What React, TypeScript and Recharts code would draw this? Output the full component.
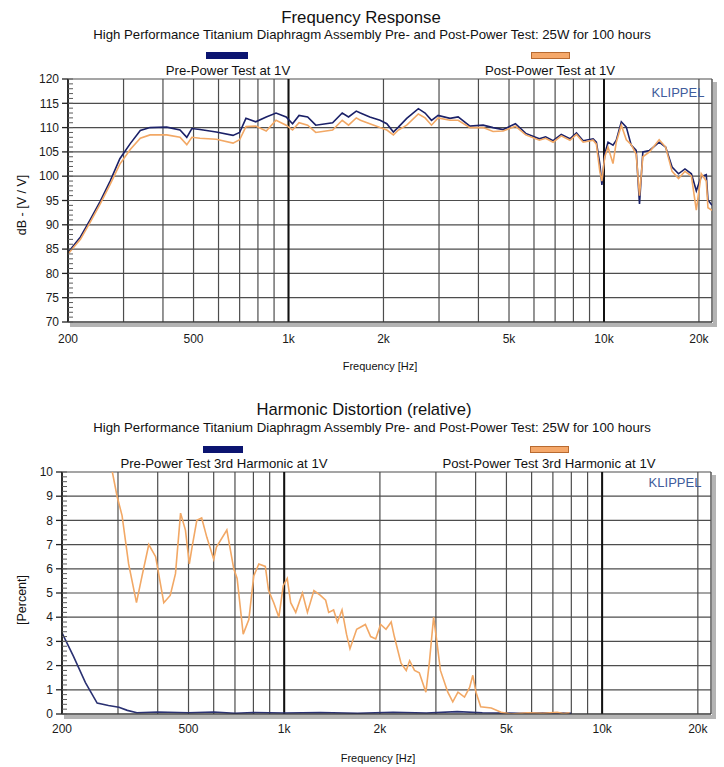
import React from 'react';
import { LineChart, Line, XAxis, YAxis, CartesianGrid, ReferenceLine } from 'recharts';

const FONT = '"Liberation Sans", Arial, Helvetica, sans-serif';
const NAVY = '#1b2168';
const ORANGE = '#f2a865';

// ---------- Frequency response (top) ----------
const frFreq = [200, 219, 235, 253, 272, 292, 315, 339, 364, 411, 453, 476, 494, 524, 590, 667, 700, 733, 787, 850, 913, 983, 1030, 1080, 1150, 1220, 1380, 1480, 1550, 1640, 1690, 1810, 1950, 2050, 2150, 2230, 2370, 2580, 2710, 2840, 2980, 3250, 3450, 3760, 4140, 4450, 4790, 5240, 5650, 6240, 6530, 6900, 7320, 7800, 8180, 8590, 9240, 9460, 9700, 9850, 10060, 10300, 10680, 10940, 11350, 11770, 12200, 12650, 12960, 13280, 13940, 14960, 15680, 16440, 17230, 18060, 18930, 19620, 20340, 21100, 21360, 22000];
const frPre = [84.3, 87.5, 91, 94.8, 99, 103.6, 106.7, 109.4, 110, 110.1, 109.5, 108, 109.8, 109.6, 109.1, 108.4, 109, 111.9, 111.2, 112.2, 113, 112.2, 110.8, 112.5, 112.2, 110.5, 111, 113, 112.2, 113.4, 113, 112.2, 111.5, 110.8, 109.1, 110.1, 111.9, 113.9, 113, 111.5, 112.5, 111.9, 112.2, 110.3, 110.5, 110, 109.6, 110.8, 108.8, 107.7, 108.1, 107.3, 108.6, 107.7, 108.9, 107.3, 107.7, 107, 102.6, 98.2, 104.6, 107, 106.4, 107.4, 111.2, 110.1, 106.4, 105.3, 94.3, 105, 105.3, 107, 106, 101.9, 100.5, 101.5, 100.5, 97, 99.9, 100.3, 95.1, 94];
const frPost = [84, 87, 90.5, 94.3, 98.3, 102.5, 105.5, 107.8, 108.5, 108.5, 108, 106.5, 108, 107.8, 107.6, 106.8, 107.5, 110.2, 110.3, 109.3, 111.5, 110.5, 109.5, 111, 110.5, 109, 109.5, 111.5, 110.5, 112, 111.5, 110.8, 110, 109.5, 108.5, 109.5, 110.5, 112.8, 112, 110.5, 112, 111.5, 111.5, 110, 110, 109.2, 109.3, 110.3, 108.5, 107.4, 107.8, 107, 108.3, 107.4, 108.6, 107, 107.4, 106.6, 101, 99, 104, 106, 102.6, 107, 110.5, 107.5, 106.5, 104.5, 96, 104, 105, 107.5, 106, 101, 99.5, 101, 100, 93, 100.5, 99, 93.5, 93];
const frMajorTicks = [70, 75, 80, 85, 90, 95, 100, 105, 110, 115, 120];
const frMinorTicks = Array.from({ length: 51 }, (_, i) => 70 + i);

// ---------- Harmonic distortion (bottom) ----------
const hdPreFreq = [200, 217, 237, 258, 280, 302, 321, 344, 400, 500, 600, 700, 800, 1000, 1300, 1700, 2200, 2800, 3500, 4200, 5500, 7000, 8000];
const hdPre = [3.35, 2.4, 1.3, 0.45, 0.35, 0.28, 0.15, 0.05, 0.08, 0.05, 0.08, 0.03, 0.06, 0.04, 0.06, 0.03, 0.07, 0.04, 0.1, 0.05, 0.03, 0.05, 0.03];
const hdPostFreq = [288, 298, 309, 324, 343, 357, 375, 394, 418, 438, 455, 472, 489, 503, 513, 531, 550, 571, 600, 612, 660, 694, 711, 743, 774, 802, 832, 872, 893, 927, 962, 993, 1022, 1048, 1087, 1141, 1183, 1240, 1300, 1350, 1380, 1430, 1470, 1520, 1570, 1610, 1690, 1800, 1870, 1940, 2010, 2090, 2170, 2220, 2330, 2420, 2480, 2570, 2660, 2790, 2860, 2950, 3020, 3100, 3270, 3390, 3520, 3690, 3830, 3920, 4010, 4150, 4480, 4810, 5170, 5840, 6500, 7220, 7560, 7900];
const hdPost = [10, 9, 8.2, 6.2, 4.6, 5.7, 7, 6.5, 4.6, 4.9, 5.8, 8.3, 7.6, 6.2, 6.9, 8, 8.1, 7.3, 6.4, 6.9, 7.6, 6, 5.6, 3.3, 3.9, 5.7, 6.2, 6.1, 5.1, 4.6, 4, 5.3, 5.6, 4.6, 4.2, 5, 4.2, 5.1, 4.9, 4.7, 4.2, 4.3, 3.8, 4.3, 3.3, 2.7, 3.5, 3.7, 3.2, 3.1, 3.7, 3.5, 3.8, 3.2, 2.1, 1.8, 2.2, 1.8, 1.7, 0.9, 2.1, 4, 3, 1.8, 0.9, 0.5, 0.9, 0.7, 1.1, 1.6, 0.9, 0.3, 0.25, 0.07, 0, 0.05, 0.03, 0.07, 0.02, 0.05];
const hdMajorTicks = [0, 1, 2, 3, 4, 5, 6, 7, 8, 9, 10];
const hdMinorTicks = Array.from({ length: 51 }, (_, i) => Math.round(i * 2) / 10);

// ---------- shared x axis ----------
const freqDomain = [200, 22000];
const gridFreqs = [200, 300, 400, 500, 600, 700, 800, 900, 1000, 2000, 3000, 4000, 5000, 6000, 7000, 8000, 9000, 10000, 20000];
const labeledFreqs = [200, 500, 1000, 2000, 5000, 10000, 20000];
const fmtFreq = (v: number) => (labeledFreqs.includes(v) ? (v >= 1000 ? `${v / 1000}k` : String(v)) : '');

const zip = (fs: number[], vs: number[]) => fs.map((f, i) => ({ f, v: vs[i] }));
const frPreData = zip(frFreq, frPre);
const frPostData = zip(frFreq, frPost);
const hdPreData = zip(hdPreFreq, hdPre);
const hdPostData = zip(hdPostFreq, hdPost);

const tickStyle = { fontSize: 12, fill: '#1a1a1a', fontFamily: FONT };
const GRID = '#4d4d4d';

const Txt = ({ x, y, size, children, rotate, color, weight }: any) => (
  <div
    style={{
      position: 'absolute',
      left: x,
      top: y,
      transform: `translate(-50%, -50%)${rotate ? ` rotate(${rotate}deg)` : ''}`,
      fontSize: size,
      fontFamily: FONT,
      color: color || '#111',
      whiteSpace: 'nowrap',
      lineHeight: 1,
      fontWeight: weight || 400,
    }}
  >
    {children}
  </div>
);

const Box = ({ x, y, w, h, color, border }: any) => (
  <div style={{ position: 'absolute', left: x, top: y, width: w, height: h, background: color, boxSizing: 'border-box', border: border ? `1px solid ${border}` : 'none' }} />
);

function PlotChart({ width, height, margin, yDomain, major, minor, series, yWidth, tickMargin }: any) {
  return (
    <LineChart width={width} height={height} margin={margin}>
      <CartesianGrid yAxisId="main" stroke={GRID} strokeWidth={1.2} horizontalValues={major} verticalValues={gridFreqs} />
      <XAxis
        dataKey="f"
        type="number"
        scale="log"
        domain={freqDomain}
        allowDataOverflow
        ticks={gridFreqs}
        interval={0}
        tickFormatter={fmtFreq}
        tickLine={false}
        axisLine={{ stroke: '#333', strokeWidth: 1.2 }}
        height={30}
        tick={tickStyle}
        tickMargin={tickMargin}
      />
      <YAxis
        yAxisId="main"
        type="number"
        domain={yDomain}
        allowDataOverflow
        ticks={major}
        interval={0}
        width={yWidth}
        tickSize={6}
        tickMargin={3}
        tick={tickStyle}
        tickLine={{ stroke: '#222', strokeWidth: 1.3 }}
        axisLine={{ stroke: '#222', strokeWidth: 1.8 }}
      />
      <YAxis
        yAxisId="minor"
        orientation="left"
        type="number"
        domain={yDomain}
        allowDataOverflow
        ticks={minor}
        interval={0}
        mirror
        width={30}
        tickSize={5}
        tickMargin={0}
        tickFormatter={() => ''}
        axisLine={false}
        tickLine={{ stroke: '#5a5a5a', strokeWidth: 1 }}
      />
      <ReferenceLine yAxisId="main" x={1000} stroke="#111" strokeWidth={2} />
      <ReferenceLine yAxisId="main" x={10000} stroke="#111" strokeWidth={2} />
      <ReferenceLine yAxisId="main" x={freqDomain[1]} stroke="#555" strokeWidth={1.5} />
      {series.map((s: any) => (
        <Line
          key={s.name}
          yAxisId="main"
          data={s.data}
          dataKey="v"
          name={s.name}
          stroke={s.color}
          strokeWidth={1.6}
          dot={false}
          isAnimationActive={false}
          type="linear"
        />
      ))}
    </LineChart>
  );
}

export default function App() {
  return (
    <div style={{ position: 'absolute', left: 0, top: 0, width: 724, height: 767, background: '#fff', overflow: 'hidden' }}>
      {/* plot shadows */}
      <Box x={70} y={323} w={647} h={4} color="#b4b4b4" />
      <Box x={713} y={82} w={4} h={245} color="#b4b4b4" />
      <Box x={64} y={715} w={652} h={4} color="#b4b4b4" />
      <Box x={712} y={475} w={4} h={244} color="#b4b4b4" />

      <div style={{ position: 'absolute', left: 0, top: 0 }}>
        <PlotChart
          width={724}
          height={360}
          margin={{ top: 79, right: 12, bottom: 8, left: 28 }}
          yWidth={40}
          yDomain={[70, 120]}
          major={frMajorTicks}
          minor={frMinorTicks}
          tickMargin={6}
          series={[
            { name: 'Pre-Power Test at 1V', data: frPreData, color: NAVY },
            { name: 'Post-Power Test at 1V', data: frPostData, color: ORANGE },
          ]}
        />
      </div>
      <div style={{ position: 'absolute', left: 0, top: 390 }}>
        <PlotChart
          width={724}
          height={360}
          margin={{ top: 82, right: 13, bottom: 6, left: 22 }}
          yWidth={40}
          yDomain={[0, 10]}
          major={hdMajorTicks}
          minor={hdMinorTicks}
          tickMargin={4}
          series={[
            { name: 'Pre-Power Test 3rd Harmonic at 1V', data: hdPreData, color: '#2a3172' },
            { name: 'Post-Power Test 3rd Harmonic at 1V', data: hdPostData, color: ORANGE },
          ]}
        />
      </div>

      {/* Top chart texts */}
      <Txt x={361} y={18} size={16.8}>Frequency Response</Txt>
      <Txt x={372} y={35} size={13.2}>High Performance Titanium Diaphragm Assembly Pre- and Post-Power Test: 25W for 100 hours</Txt>
      <Box x={206} y={52} w={42} h={7} color="#0b1470" border="#0b1470" />
      <Box x={531} y={52} w={39} h={7} color="#f5a86a" border="#b86a30" />
      <Txt x={228} y={71} size={13.2}>Pre-Power Test at 1V</Txt>
      <Txt x={550} y={71} size={13.2}>Post-Power Test at 1V</Txt>
      <Txt x={678} y={92} size={13} color="#3f5c9c">KLIPPEL</Txt>
      <Txt x={22} y={205} size={12.5} rotate={-90}>dB - [V / V]</Txt>
      <Txt x={380} y={366} size={11}>Frequency [Hz]</Txt>

      {/* Bottom chart texts */}
      <Txt x={364} y={410} size={16.6}>Harmonic Distortion (relative)</Txt>
      <Txt x={372} y={428} size={13.2}>High Performance Titanium Diaphragm Assembly Pre- and Post-Power Test: 25W for 100 hours</Txt>
      <Box x={203} y={446} w={40} h={7} color="#0b1470" border="#0b1470" />
      <Box x={530} y={446} w={39} h={7} color="#f5a86a" border="#b86a30" />
      <Txt x={224} y={464} size={13.2}>Pre-Power Test 3rd Harmonic at 1V</Txt>
      <Txt x={549} y={464} size={13.2}>Post-Power Test 3rd Harmonic at 1V</Txt>
      <Txt x={675} y={482} size={13} color="#3f5c9c">KLIPPEL</Txt>
      <Txt x={22} y={600} size={12.5} rotate={-90}>[Percent]</Txt>
      <Txt x={378} y={758} size={11}>Frequency [Hz]</Txt>
    </div>
  );
}
